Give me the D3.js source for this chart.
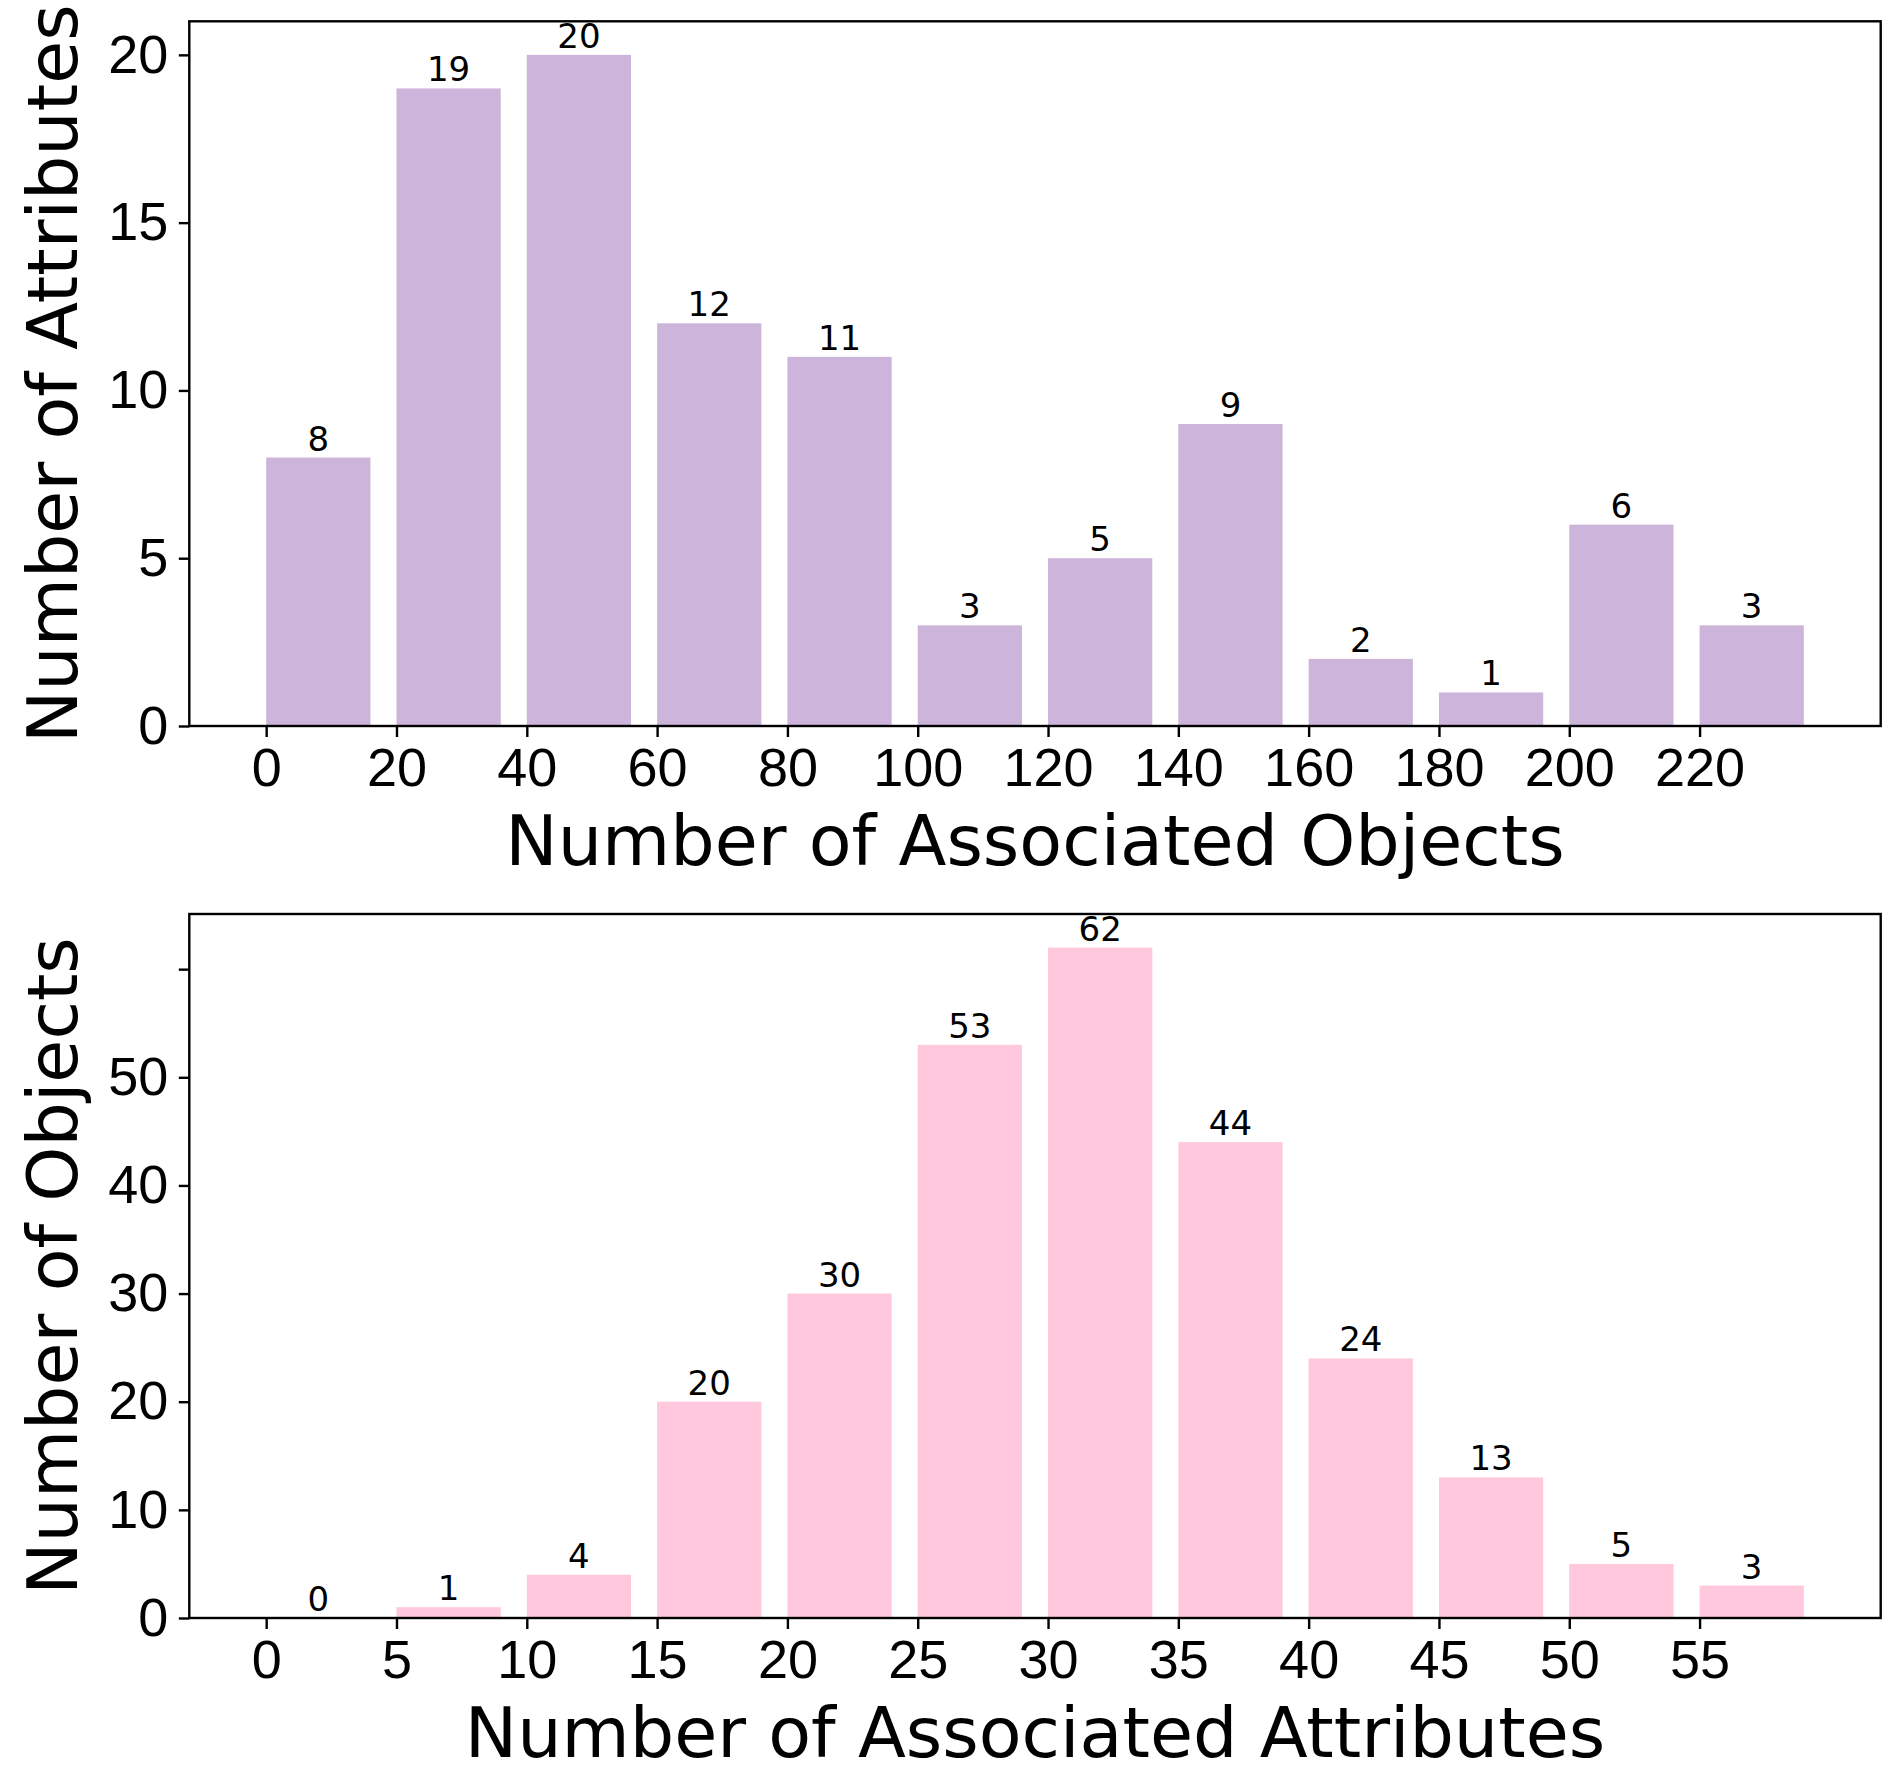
<!DOCTYPE html>
<html>
<head>
<meta charset="utf-8">
<title>attribute / object histograms</title>
<style>
body { margin: 0; background: #fff; }
svg { display: block; font-family: "DejaVu Sans", sans-serif; }
.axis .domain { display: none; }
.axis line { stroke: #000; stroke-width: 2.4px; }
.axis text { font-size: 54px; fill: #000; }
</style>
</head>
<body>
<svg width="1902" height="1792"></svg>
<script src="https://d3js.org/d3.v7.min.js"></script>
<script>
// top panel: attributes binned by number of associated objects (bin width 20)
var objBins = [0, 20, 40, 60, 80, 100, 120, 140, 160, 180, 200, 220];
var objCounts = [8, 19, 20, 12, 11, 3, 5, 9, 2, 1, 6, 3];
var objXTicks = [0, 20, 40, 60, 80, 100, 120, 140, 160, 180, 200, 220];
var objYTicks = [0, 5, 10, 15, 20];

// bottom panel: objects binned by number of associated attributes (bin width 5)
var attrBins = [0, 5, 10, 15, 20, 25, 30, 35, 40, 45, 50, 55];
var attrCounts = [0, 1, 4, 20, 30, 53, 62, 44, 24, 13, 5, 3];
var attrXTicks = [0, 5, 10, 15, 20, 25, 30, 35, 40, 45, 50, 55];
var attrYTicks = [0, 10, 20, 30, 40, 50, 60];
var attrYTickLabels = ["0", "10", "20", "30", "40", "50", ""];

var svg = d3.select("svg");

function panel(opt) {
  var left = 189.3, right = 1880.7;
  var top = opt.top, bottom = opt.bottom;
  var g = svg.append("g");

  // matplotlib style 5% margins
  var x0 = opt.bins[0], x1 = opt.bins[opt.bins.length - 1] + opt.barW;
  var xp = (x1 - x0) * 0.05;
  var x = d3.scaleLinear().domain([x0 - xp, x1 + xp]).range([left, right]);
  var ymax = d3.max(opt.counts) * 1.05;
  var y = d3.scaleLinear().domain([0, ymax]).range([bottom, top]);

  var data = opt.bins.map(function(b, i) { return {x: b, v: opt.counts[i]}; });

  g.selectAll("rect.bar")
    .data(data)
    .enter().append("rect")
    .attr("class", "bar")
    .attr("x", function(d) { return x(d.x); })
    .attr("width", function(d) { return x(d.x + opt.barW) - x(d.x); })
    .attr("y", function(d) { return y(d.v); })
    .attr("height", function(d) { return y(0) - y(d.v); })
    .attr("fill", opt.color);

  g.selectAll("text.lab")
    .data(data)
    .enter().append("text")
    .attr("class", "lab")
    .attr("x", function(d) { return x(d.x + opt.barW / 2); })
    .attr("y", function(d) { return y(d.v) - 7; })
    .attr("text-anchor", "middle")
    .attr("font-size", 34)
    .text(function(d) { return d.v; });

  g.append("g")
    .attr("class", "axis")
    .attr("transform", "translate(0," + bottom + ")")
    .call(d3.axisBottom(x).tickValues(opt.xTicks).tickSize(11).tickPadding(11));

  var yAxis = d3.axisLeft(y).tickValues(opt.yTicks).tickSize(10.5).tickPadding(10.5);
  if (opt.yLabels) yAxis.tickFormat(function(d, i) { return opt.yLabels[i]; });
  g.append("g")
    .attr("class", "axis")
    .attr("transform", "translate(" + left + ",0)")
    .call(yAxis);

  g.append("rect")
    .attr("x", left).attr("y", top)
    .attr("width", right - left).attr("height", bottom - top)
    .attr("fill", "none").attr("stroke", "#000").attr("stroke-width", 2.4);

  g.append("text")
    .attr("x", (left + right) / 2)
    .attr("y", opt.xLabelY)
    .attr("text-anchor", "middle")
    .attr("font-size", 70)
    .text(opt.xLabel);

  g.append("text")
    .attr("transform", "translate(77," + (top + bottom) / 2 + ") rotate(-90)")
    .attr("text-anchor", "middle")
    .attr("font-size", 70)
    .text(opt.yLabel);
}

panel({
  top: 21.3, bottom: 726,
  bins: objBins, counts: objCounts, barW: 16,
  xTicks: objXTicks, yTicks: objYTicks,
  color: "#cdb4db",
  xLabel: "Number of Associated Objects", xLabelY: 865,
  yLabel: "Number of Attributes"
});

panel({
  top: 914, bottom: 1618,
  bins: attrBins, counts: attrCounts, barW: 4,
  xTicks: attrXTicks, yTicks: attrYTicks, yLabels: attrYTickLabels,
  color: "#ffc8dd",
  xLabel: "Number of Associated Attributes", xLabelY: 1757,
  yLabel: "Number of Objects"
});
</script>
</body>
</html>
